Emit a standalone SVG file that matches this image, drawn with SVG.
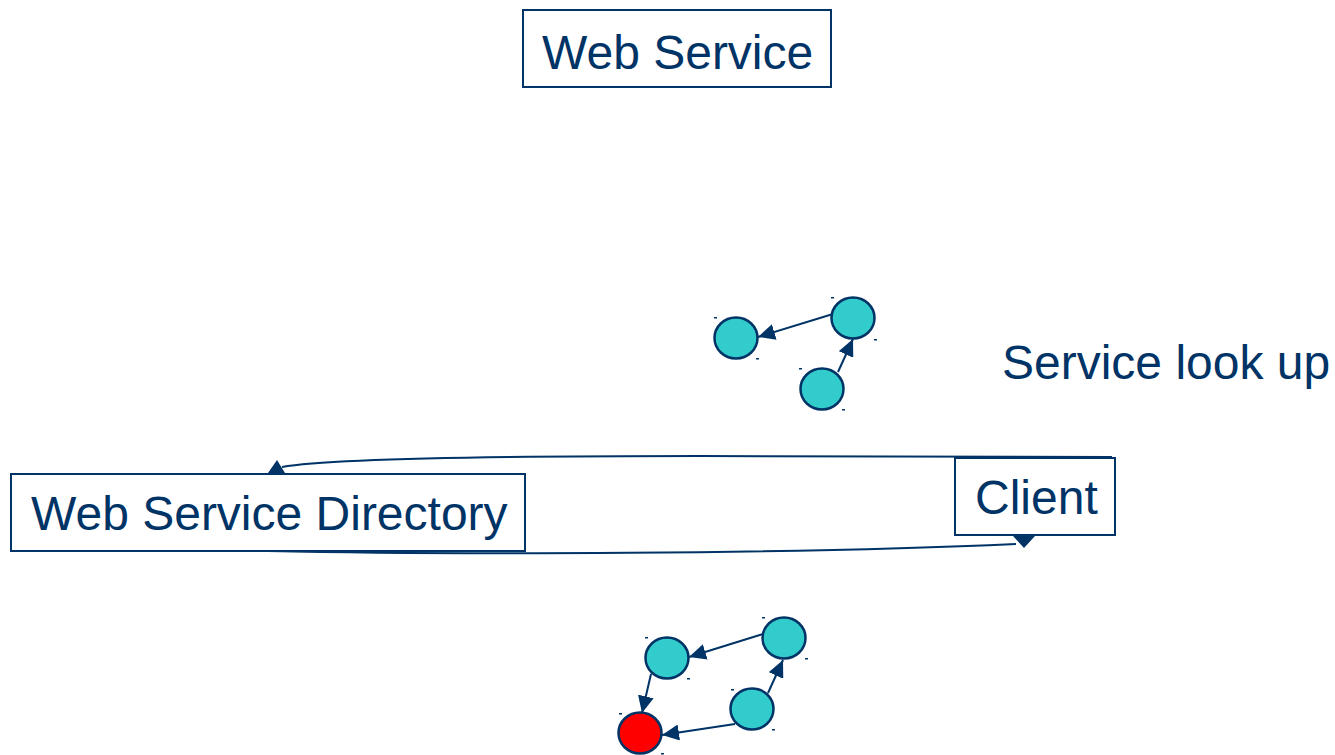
<svg xmlns="http://www.w3.org/2000/svg" width="1335" height="755" viewBox="0 0 1335 755">
  <defs>
    <style>
      .box { fill: #ffffff; stroke: #003366; stroke-width: 2; }
      .lbl { font-family: "Liberation Sans", Arial, sans-serif; font-size: 48px; fill: #003366; }
      .svc { fill: #33cccc; stroke: #003366; stroke-width: 2.5; }
      .bad { fill: #ff0000; stroke: #003366; stroke-width: 2.5; }
      .edge { fill: none; stroke: #003366; stroke-width: 2; }
      .arr { marker-end: url(#arrow); }
      .head { fill: #003366; }
      .tick { fill: #003366; }
    </style>
    <marker id="arrow" markerUnits="userSpaceOnUse" markerWidth="18" markerHeight="16" refX="17" refY="8" orient="auto">
      <path d="M0,0 L17,8 L0,16 Z" fill="#003366"/>
    </marker>
  </defs>

  <!-- Service being published -->
  <g id="web-service">
    <rect class="box" x="523" y="10" width="308" height="77"/>
    <text class="lbl" x="542" y="69">Web Service</text>
  </g>

  <g id="directory">
    <rect class="box" x="11" y="474" width="514" height="77"/>
    <text class="lbl" x="31" y="530">Web Service Directory</text>
  </g>

  <g id="client">
    <rect class="box" x="955" y="458" width="160" height="77"/>
    <text class="lbl" x="975" y="514">Client</text>
  </g>

  <g id="lookup-label">
    <text class="lbl" x="1002" y="379">Service look up</text>
  </g>

  <!-- Request / response between client and directory -->
  <g id="connectors">
    <path class="edge" d="M1112,457 L700,456 C450,456 320,460 282,467"/>
    <polygon class="head" points="268,473 285,473 277,460"/>
    <path class="edge" d="M268,551 C450,555 800,554 1016,544"/>
    <polygon class="head" points="1013,536 1035,536 1024,548"/>

    <!-- upper service graph -->
    <line class="edge arr" x1="833" y1="314" x2="758" y2="337"/>
    <line class="edge arr" x1="838" y1="372" x2="853" y2="339"/>

    <!-- lower service graph -->
    <line class="edge arr" x1="763" y1="634" x2="689" y2="657"/>
    <line class="edge arr" x1="768" y1="693" x2="783" y2="660"/>
    <line class="edge arr" x1="651" y1="674" x2="642" y2="713"/>
    <line class="edge arr" x1="735" y1="724" x2="662" y2="735"/>
  </g>

  <!-- upper service graph nodes -->
  <g id="node-a">
    <ellipse class="svc" cx="736" cy="338" rx="21.5" ry="20.5"/>
    <rect class="tick" x="714" y="317" width="3" height="1.5"/>
    <rect class="tick" x="756" y="358" width="3" height="1.5"/>
  </g>
  <g id="node-b">
    <ellipse class="svc" cx="853" cy="318" rx="21.5" ry="20.5"/>
    <rect class="tick" x="831" y="297" width="3" height="1.5"/>
    <rect class="tick" x="874" y="339" width="3" height="1.5"/>
  </g>
  <g id="node-c">
    <ellipse class="svc" cx="822" cy="389" rx="21.5" ry="20.5"/>
    <rect class="tick" x="799" y="368" width="3" height="1.5"/>
    <rect class="tick" x="842" y="409" width="3" height="1.5"/>
  </g>

  <!-- lower service graph nodes -->
  <g id="node-d">
    <ellipse class="svc" cx="667" cy="658" rx="21.5" ry="20.5"/>
    <rect class="tick" x="645" y="637" width="3" height="1.5"/>
    <rect class="tick" x="687" y="678" width="3" height="1.5"/>
  </g>
  <g id="node-e">
    <ellipse class="svc" cx="784" cy="638" rx="21.5" ry="20.5"/>
    <rect class="tick" x="762" y="617" width="3" height="1.5"/>
    <rect class="tick" x="805" y="658" width="3" height="1.5"/>
  </g>
  <g id="node-f">
    <ellipse class="svc" cx="752" cy="709" rx="21.5" ry="20.5"/>
    <rect class="tick" x="731" y="689" width="3" height="1.5"/>
    <rect class="tick" x="772" y="729" width="3" height="1.5"/>
  </g>
  <g id="node-failed">
    <ellipse class="bad" cx="640" cy="733" rx="21.5" ry="20.5"/>
    <rect class="tick" x="619" y="713" width="3" height="1.5"/>
    <rect class="tick" x="661" y="753" width="3" height="1.5"/>
  </g>
</svg>
